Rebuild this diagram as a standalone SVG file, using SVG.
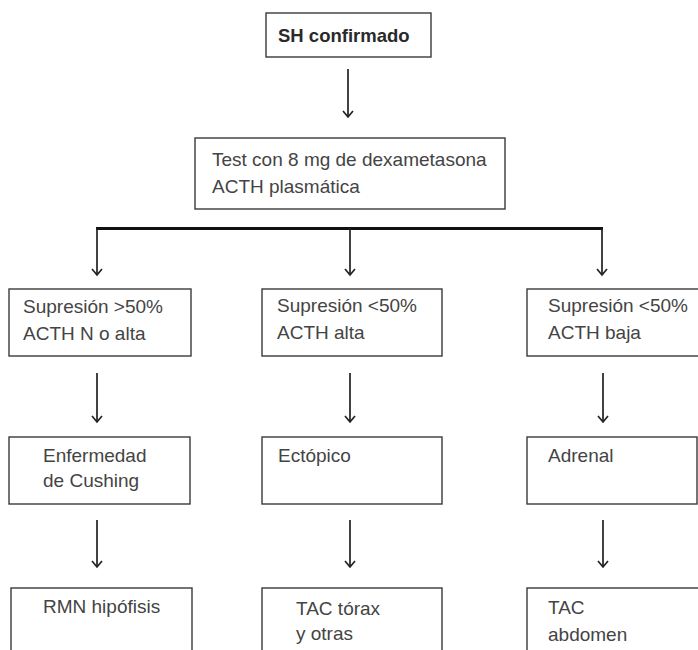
<svg xmlns="http://www.w3.org/2000/svg" width="698" height="650" viewBox="0 0 698 650">
  <style>
    .box { fill: #ffffff; stroke: #3a3a3a; stroke-width: 1.4; }
    .txt { font-family: "Liberation Sans", Arial, sans-serif; font-size: 19px; fill: #444444; }
    .title { font-family: "Liberation Sans", Arial, sans-serif; font-size: 18.5px; font-weight: bold; fill: #2a2a2a; }
    .line { stroke: #222222; stroke-width: 1.7; fill: none; }
    .bar { stroke: #111111; stroke-width: 3; fill: none; }
    .head { stroke: #222222; stroke-width: 1.7; fill: none; stroke-linejoin: miter; }
  </style>
  <rect width="698" height="650" fill="#ffffff"/>

  <g id="connectors">
    <!-- top -->
    <line class="line" x1="348" y1="69" x2="348" y2="117"/>
    <polyline class="head" points="343,111 348,117 353,111"/>
    <!-- branch bar -->
    <line class="bar" x1="96" y1="228.5" x2="603" y2="228.5"/>
    <line class="line" x1="97" y1="228" x2="97" y2="275"/>
    <polyline class="head" points="92,269 97,275 102,269"/>
    <line class="line" x1="350" y1="228" x2="350" y2="275"/>
    <polyline class="head" points="345,269 350,275 355,269"/>
    <line class="line" x1="602" y1="228" x2="602" y2="275"/>
    <polyline class="head" points="597,269 602,275 607,269"/>
    <!-- row 1 to row 2 -->
    <line class="line" x1="97" y1="373" x2="97" y2="422"/>
    <polyline class="head" points="92,416 97,422 102,416"/>
    <line class="line" x1="350" y1="373" x2="350" y2="422"/>
    <polyline class="head" points="345,416 350,422 355,416"/>
    <line class="line" x1="603" y1="373" x2="603" y2="422"/>
    <polyline class="head" points="598,416 603,422 608,416"/>
    <!-- row 2 to row 3 -->
    <line class="line" x1="97" y1="520" x2="97" y2="567"/>
    <polyline class="head" points="92,561 97,567 102,561"/>
    <line class="line" x1="350" y1="520" x2="350" y2="567"/>
    <polyline class="head" points="345,561 350,567 355,561"/>
    <line class="line" x1="603" y1="520" x2="603" y2="567"/>
    <polyline class="head" points="598,561 603,567 608,561"/>
  </g>

  <g id="sh-confirmado">
    <rect class="box" x="266" y="13" width="165" height="44"/>
    <text class="title" x="278" y="42">SH confirmado</text>
  </g>

  <g id="test-dexametasona">
    <rect class="box" x="195" y="138" width="310" height="71"/>
    <text class="txt" x="212" y="166">Test con 8 mg de dexametasona</text>
    <text class="txt" x="212" y="193">ACTH plasmática</text>
  </g>

  <g id="supresion-mayor">
    <rect class="box" x="9" y="289" width="182" height="67"/>
    <text class="txt" x="23" y="313">Supresión &gt;50%</text>
    <text class="txt" x="23" y="340">ACTH N o alta</text>
  </g>

  <g id="supresion-menor-alta">
    <rect class="box" x="262" y="289" width="180" height="67"/>
    <text class="txt" x="277" y="312">Supresión &lt;50%</text>
    <text class="txt" x="277" y="339">ACTH alta</text>
  </g>

  <g id="supresion-menor-baja">
    <rect class="box" x="527" y="289" width="180" height="67"/>
    <text class="txt" x="548" y="312">Supresión &lt;50%</text>
    <text class="txt" x="548" y="339">ACTH baja</text>
  </g>

  <g id="cushing">
    <rect class="box" x="9" y="437" width="181" height="67"/>
    <text class="txt" x="43" y="462">Enfermedad</text>
    <text class="txt" x="43" y="487">de Cushing</text>
  </g>

  <g id="ectopico">
    <rect class="box" x="262" y="437" width="180" height="67"/>
    <text class="txt" x="278" y="462">Ectópico</text>
  </g>

  <g id="adrenal">
    <rect class="box" x="527" y="437" width="170" height="67"/>
    <text class="txt" x="548" y="462">Adrenal</text>
  </g>

  <g id="rmn-hipofisis">
    <rect class="box" x="11" y="588" width="181" height="80"/>
    <text class="txt" x="43" y="613">RMN hipófisis</text>
  </g>

  <g id="tac-torax">
    <rect class="box" x="262" y="588" width="180" height="80"/>
    <text class="txt" x="296" y="615">TAC tórax</text>
    <text class="txt" x="296" y="640">y otras</text>
  </g>

  <g id="tac-abdomen">
    <rect class="box" x="527" y="588" width="180" height="80"/>
    <text class="txt" x="548" y="614">TAC</text>
    <text class="txt" x="548" y="641">abdomen</text>
  </g>
</svg>
